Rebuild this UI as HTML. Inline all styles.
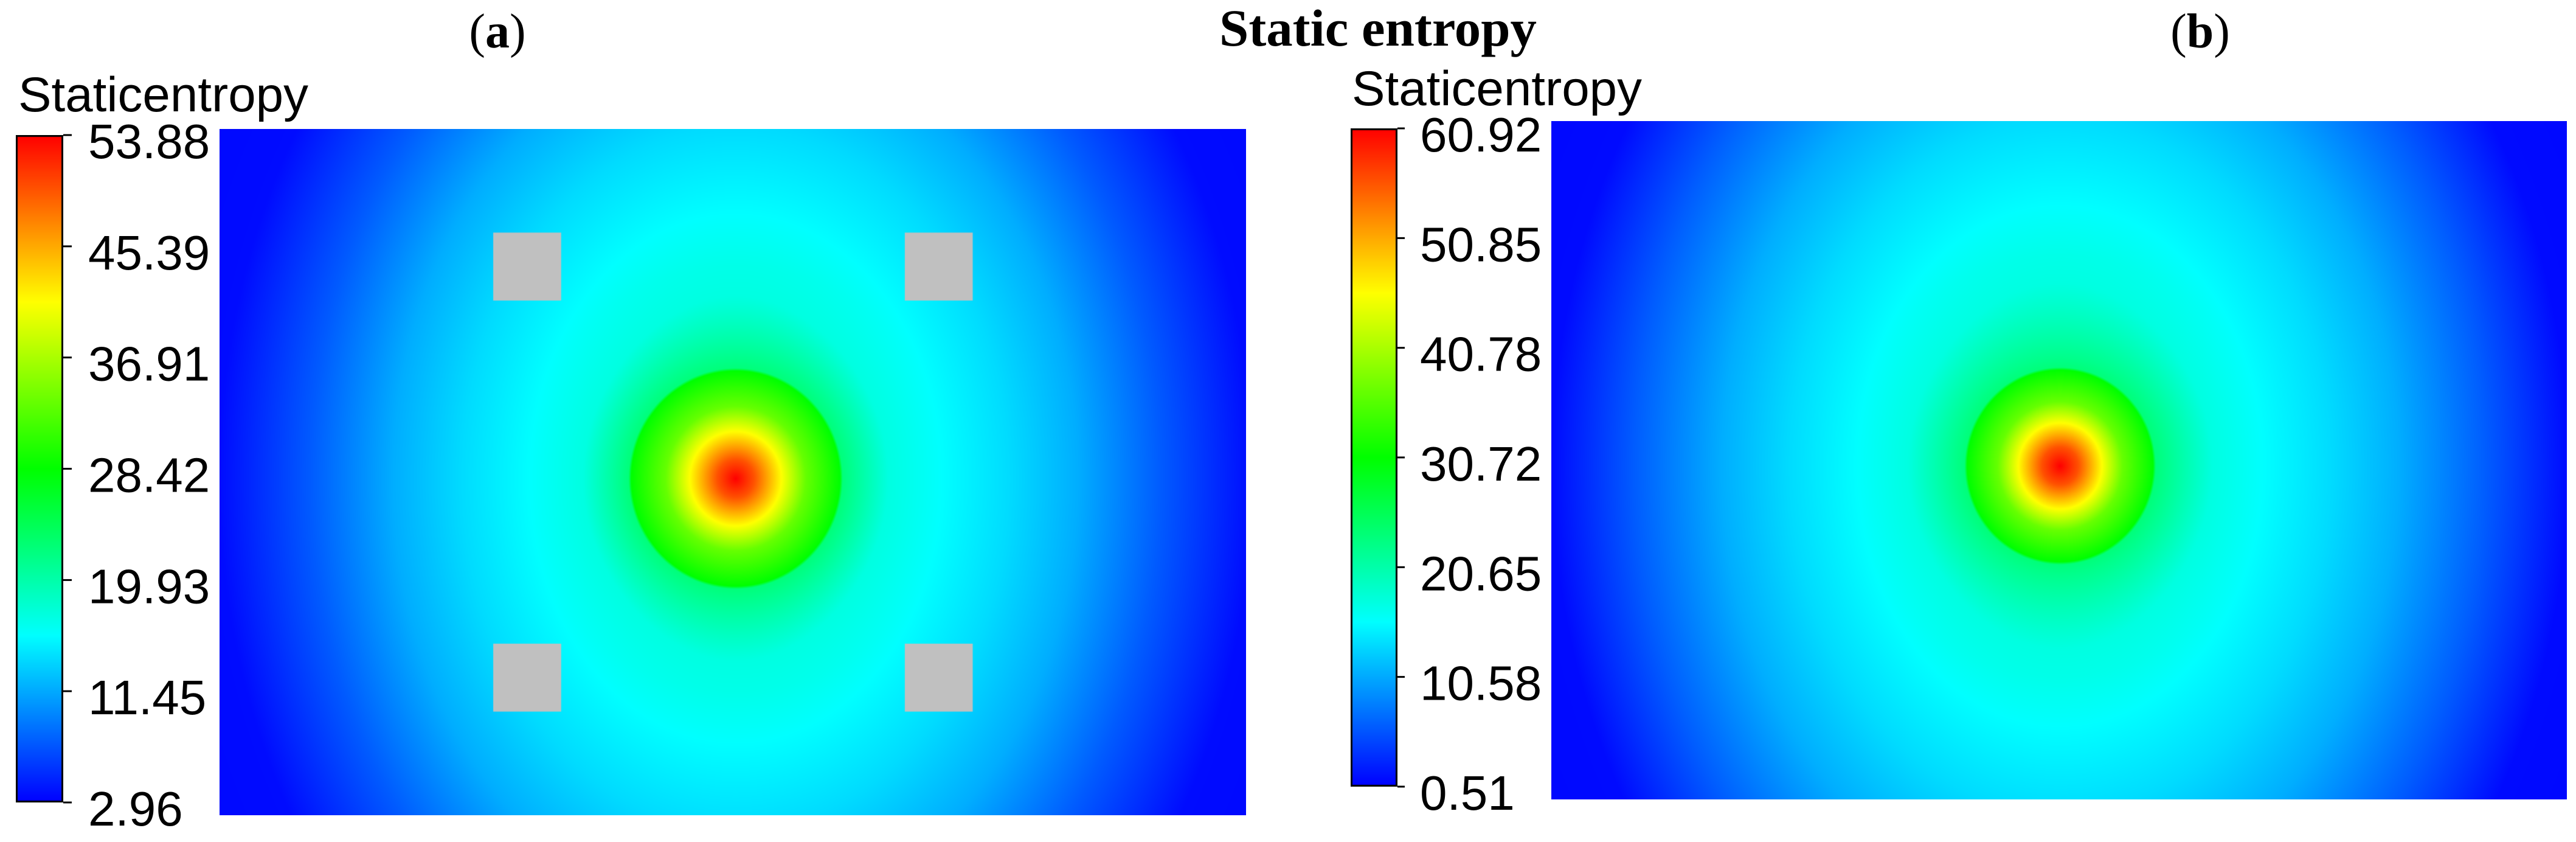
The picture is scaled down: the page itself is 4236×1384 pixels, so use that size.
<!DOCTYPE html>
<html>
<head>
<meta charset="utf-8">
<style>
  html,body{margin:0;padding:0;background:#fff;}
  #root{position:relative;width:4236px;height:1384px;overflow:hidden;background:#fff;}
  canvas{position:absolute;display:block;}
  svg{position:absolute;left:0;top:0;}
</style>
</head>
<body>
<div id="root">
  <canvas id="fieldA"></canvas>
  <canvas id="fieldB"></canvas>
  <canvas id="barA"></canvas>
  <canvas id="barB"></canvas>
  <svg id="overlay" width="4236" height="1384">
    <text x="2266" y="75" font-family="Liberation Serif, serif" font-weight="bold" font-size="86" text-anchor="middle" textLength="522" lengthAdjust="spacingAndGlyphs">Static entropy</text>
    <text x="818" y="78" font-family="Liberation Serif, serif" font-size="80" text-anchor="middle">(<tspan font-weight="bold">a</tspan>)</text>
    <text x="3618" y="78" font-family="Liberation Serif, serif" font-size="80" text-anchor="middle">(<tspan font-weight="bold">b</tspan>)</text>
    <text x="30" y="183" font-family="Liberation Sans, sans-serif" font-size="81" textLength="477" lengthAdjust="spacingAndGlyphs">Staticentropy</text>
    <text x="2223" y="173" font-family="Liberation Sans, sans-serif" font-size="81" textLength="477" lengthAdjust="spacingAndGlyphs">Staticentropy</text>
    <g id="ticksA"></g>
    <g id="ticksB"></g>
  </svg>
</div>
<script>
// ---------- data ----------
const ticksA = [2.96, 11.45, 19.93, 28.42, 36.91, 45.39, 53.88];
const tickLabelsA = ["2.96", "11.45", "19.93", "28.42", "36.91", "45.39", "53.88"];
const ticksB = [0.51, 10.58, 20.65, 30.72, 40.78, 50.85, 60.92];
const tickLabelsB = ["0.51", "10.58", "20.65", "30.72", "40.78", "50.85", "60.92"];
// radial profile: distance from hot spot (domain units, height = 1) and entropy value
const radiusA = [0, 0.027, 0.102, 0.152, 0.156, 0.222, 0.30, 0.40, 0.50, 0.62, 0.754, 1.2];
const valueA  = [53.88, 49.8, 33.5, 28.4, 22.3, 17.2, 15.7, 13.9, 11.6, 7.5, 3.5, 2.96];
const radiusB = [0, 0.027, 0.092, 0.137, 0.141, 0.224, 0.30, 0.40, 0.50, 0.628, 0.75, 1.2];
const valueB  = [60.92, 56.1, 36.8, 30.7, 23.5, 17.4, 15.6, 13.5, 10.8, 6.0, 1.1, 0.51];
const centerA = [0.752, 0.509];
const centerB = [0.750, 0.508];
// solid blocks in panel a: [x0, y0, x1, y1] in domain units
const blocksA = [[0.399, 0.151, 0.498, 0.250], [0.999, 0.151, 1.098, 0.250],
                 [0.399, 0.750, 0.498, 0.849], [0.999, 0.750, 1.098, 0.849]];

// ---------- layout ----------
const plotA = {x:361, y:212, w:1688, h:1128};
const plotB = {x:2551, y:199, w:1670, h:1115};
const cbarA = {x:26, y:222, w:78, h:1097, tickEnd:118, labelX:145};
const cbarB = {x:2221, y:211, w:77, h:1082, tickEnd:2310, labelX:2335};
const yStretch = 0.78;

function jet(t){
  t = Math.max(0, Math.min(1, t));
  const stops = [[0,0,0,255],[0.25,0,255,255],[0.5,0,255,0],[0.75,255,255,0],[1,255,0,0]];
  for (let i=1;i<stops.length;i++){
    if (t <= stops[i][0]){
      const a=stops[i-1], b=stops[i], f=(t-a[0])/(b[0]-a[0]);
      return [a[1]+(b[1]-a[1])*f, a[2]+(b[2]-a[2])*f, a[3]+(b[3]-a[3])*f];
    }
  }
  return [255,0,0];
}
function profile(r, radii, vals){
  if (r >= radii[radii.length-1]) return vals[vals.length-1];
  for (let i=1;i<radii.length;i++){
    if (r <= radii[i]){
      const f=(r-radii[i-1])/(radii[i]-radii[i-1]);
      return vals[i-1]+(vals[i]-vals[i-1])*f;
    }
  }
  return vals[vals.length-1];
}
function drawField(id, plot, center, radii, vals, vmin, vmax, blocks){
  const c = document.getElementById(id);
  c.width = plot.w; c.height = plot.h;
  c.style.left = plot.x+'px'; c.style.top = plot.y+'px';
  const ctx = c.getContext('2d');
  const img = ctx.createImageData(plot.w, plot.h);
  const s = plot.h;
  for (let y=0;y<plot.h;y++){
    const dy = (y/s - center[1]);
    for (let x=0;x<plot.w;x++){
      const dx = x/s - center[0];
      const r0 = Math.sqrt(dx*dx + dy*dy);
      const w = Math.min(1, Math.max(0, (r0 - 0.16)/0.15));
      const dys = dy*(0.97 - (0.97-yStretch)*w);
      const r = Math.sqrt(dx*dx + dys*dys);
      const v = profile(r, radii, vals);
      const col = jet((v - vmin)/(vmax - vmin));
      const k = (y*plot.w + x)*4;
      img.data[k]=col[0]; img.data[k+1]=col[1]; img.data[k+2]=col[2]; img.data[k+3]=255;
    }
  }
  ctx.putImageData(img,0,0);
  ctx.fillStyle = '#c0c0c0';
  blocks.forEach(b=>{
    ctx.fillRect(b[0]*s, b[1]*s, (b[2]-b[0])*s, (b[3]-b[1])*s);
  });
}
function drawBar(id, bar, gid, ticks, labels){
  const c = document.getElementById(id);
  c.width = bar.w; c.height = bar.h;
  c.style.left = bar.x+'px'; c.style.top = bar.y+'px';
  const ctx = c.getContext('2d');
  for (let y=0;y<bar.h;y++){
    const col = jet(1 - y/(bar.h-1));
    ctx.fillStyle = 'rgb('+col.map(Math.round).join(',')+')';
    ctx.fillRect(0,y,bar.w,1);
  }
  ctx.strokeStyle = '#000'; ctx.lineWidth = 3;
  ctx.strokeRect(1.5,1.5,bar.w-3,bar.h-3);
  const g = document.getElementById(gid);
  const NS = 'http://www.w3.org/2000/svg';
  const vmin = ticks[0], vmax = ticks[ticks.length-1];
  ticks.forEach((v,i)=>{
    const y = bar.y + bar.h - (v - vmin)/(vmax - vmin)*bar.h;
    const ln = document.createElementNS(NS,'line');
    
    
    ln.setAttribute('x1', bar.x + bar.w); ln.setAttribute('x2', bar.tickEnd);
    ln.setAttribute('y1', y); ln.setAttribute('y2', y);
    ln.setAttribute('stroke', '#000'); ln.setAttribute('stroke-width', '3');
    g.appendChild(ln);
    const t = document.createElementNS(NS,'text');
    
    
    t.setAttribute('x', bar.labelX); t.setAttribute('y', y + 38);
    t.setAttribute('font-family', 'Liberation Sans, sans-serif');
    t.setAttribute('font-size', '80');
    t.textContent = labels[i];
    g.appendChild(t);
  });
}
drawField('fieldA', plotA, centerA, radiusA, valueA, ticksA[0], ticksA[ticksA.length-1], blocksA);
drawField('fieldB', plotB, centerB, radiusB, valueB, ticksB[0], ticksB[ticksB.length-1], []);
drawBar('barA', cbarA, 'ticksA', ticksA, tickLabelsA);
drawBar('barB', cbarB, 'ticksB', ticksB, tickLabelsB);
</script>
</body>
</html>
